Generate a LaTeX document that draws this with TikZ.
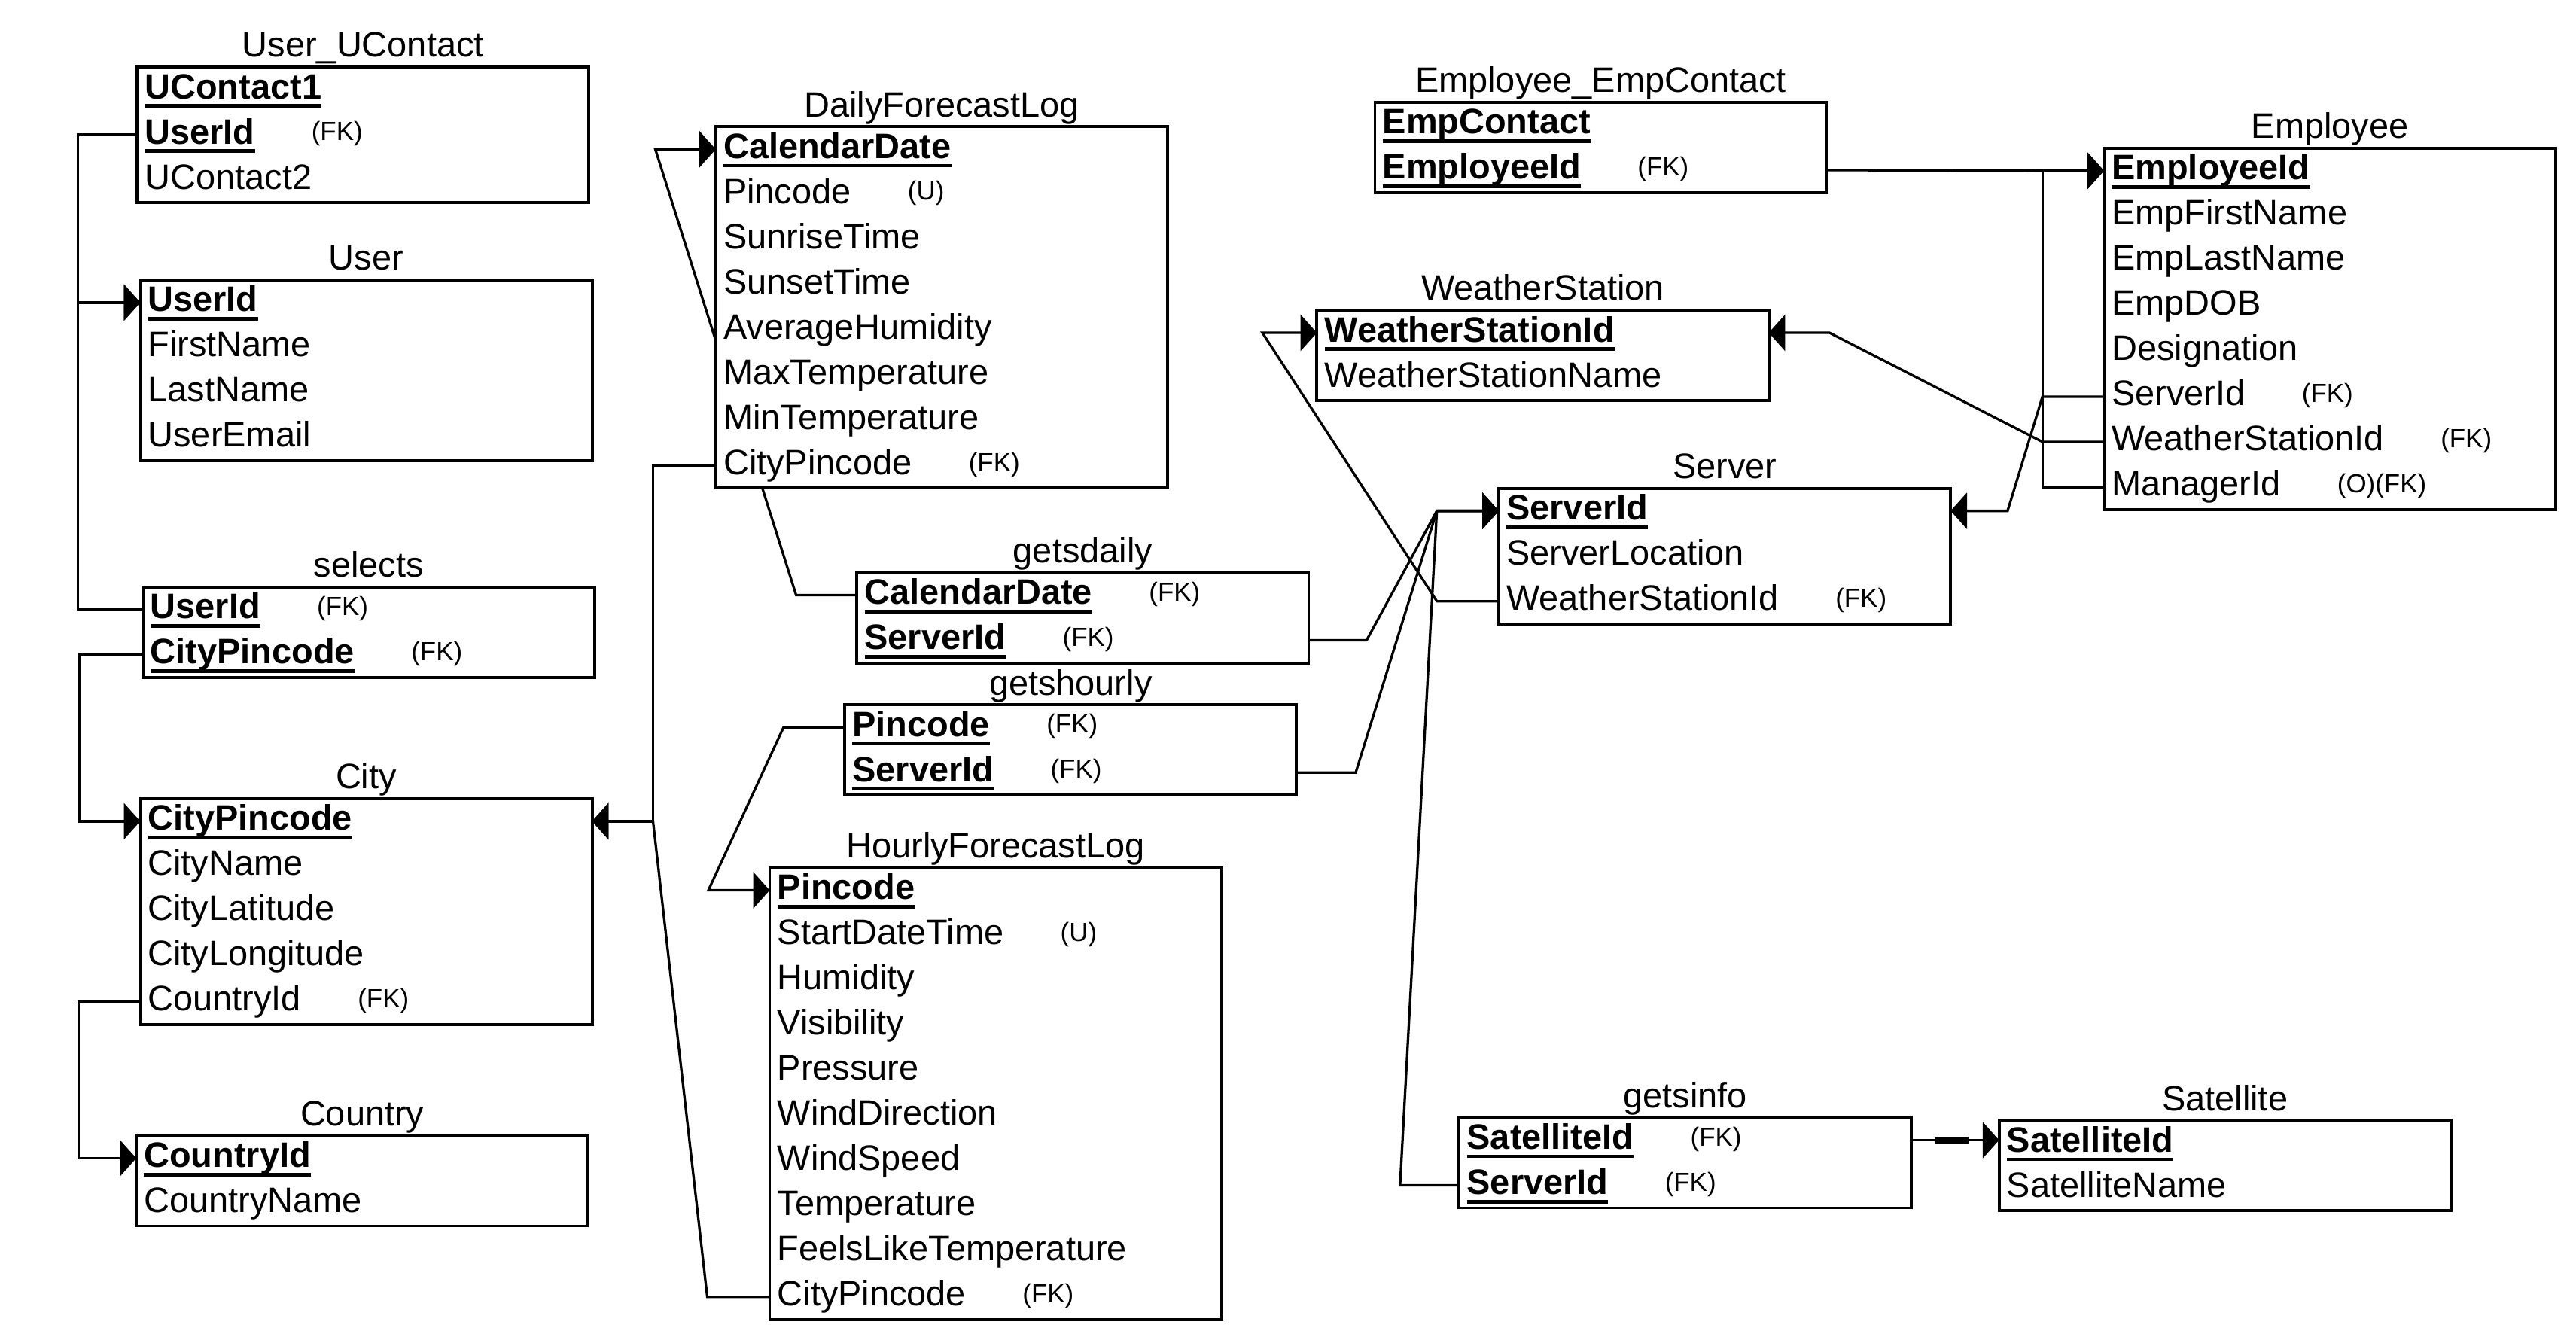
\documentclass[tikz,border=0pt]{standalone}
\usepackage{fontspec}
\setmainfont{Liberation Sans}
\usetikzlibrary{arrows.meta,backgrounds,calc}

\newcommand{\pkey}[1]{\setbox0\hbox{\bfseries #1}\rlap{\rule[-5.5pt]{\wd0}{2.1pt}}\box0}
\newcommand{\fk}[1][(FK)]{\hspace{34.5pt}\raisebox{2pt}{\fontsize{16}{18}\selectfont #1}}

\tikzstyle{tS}=[draw, line width=1.8pt, fill=white, minimum width=275pt, inner sep=0pt, outer sep=0pt, anchor=north west]
\tikzstyle{hS}=[inner sep=0pt, anchor=base, font=\fontsize{21.5}{24}\selectfont]
\tikzstyle{fS}=[inner sep=0pt, anchor=west, text height=15.5pt, text depth=4.5pt, font=\fontsize{21.5}{24}\selectfont]
\tikzstyle{cS}=[line width=1.5pt]
\tikzstyle{aS}=[line width=1.5pt, -{Triangle[length=10pt,width=22pt]}]

\begin{document}
\begin{tikzpicture}[x=1pt,y=-1pt]
\useasboundingbox (0,0) rectangle (1568,815.6);
% tables
\draw (83.5,40.8) node[tS, minimum height=82.5pt] (uuc) {};
\node[hS] at ([yshift=6pt]uuc.north) {User\_UContact};
\foreach \f [count=\i] in {{\pkey{UContact1}}, {\pkey{UserId}\fk}, UContact2}
  \node[fS] (uuc\i) at ([shift={(4.5,27.5*\i-13.75)}]uuc.north west) {\f};

\draw (85.4,170.4) node[tS, minimum height=110pt] (user) {};
\node[hS] at ([yshift=6pt]user.north) {User};
\foreach \f [count=\i] in {{\pkey{UserId}}, FirstName, LastName, UserEmail}
  \node[fS] (user\i) at ([shift={(4.5,27.5*\i-13.75)}]user.north west) {\f};

\draw (86.9,357.2) node[tS, minimum height=55pt] (sel) {};
\node[hS] at ([yshift=6pt]sel.north) {selects};
\foreach \f [count=\i] in {{\pkey{UserId}\fk}, {\pkey{CityPincode}\fk}}
  \node[fS] (sel\i) at ([shift={(4.5,27.5*\i-13.75)}]sel.north west) {\f};

\draw (85.4,486.1) node[tS, minimum height=137.5pt] (city) {};
\node[hS] at ([yshift=6pt]city.north) {City};
\foreach \f [count=\i] in {{\pkey{CityPincode}}, CityName, CityLatitude, CityLongitude, {CountryId\fk}}
  \node[fS] (city\i) at ([shift={(4.5,27.5*\i-13.75)}]city.north west) {\f};

\draw (83,691.2) node[tS, minimum height=55pt] (ctry) {};
\node[hS] at ([yshift=6pt]ctry.north) {Country};
\foreach \f [count=\i] in {{\pkey{CountryId}}, CountryName}
  \node[fS] (ctry\i) at ([shift={(4.5,27.5*\i-13.75)}]ctry.north west) {\f};

\draw (435.7,77.1) node[tS, minimum height=220pt] (dfl) {};
\node[hS] at ([yshift=6pt]dfl.north) {DailyForecastLog};
\foreach \f [count=\i] in {{\pkey{CalendarDate}}, {Pincode\fk[(U)]}, SunriseTime, SunsetTime, AverageHumidity, MaxTemperature, MinTemperature, {CityPincode\fk}}
  \node[fS] (dfl\i) at ([shift={(4.5,27.5*\i-13.75)}]dfl.north west) {\f};

\draw (521.6,348.5) node[tS, minimum height=55pt] (gd) {};
\node[hS] at ([yshift=6pt]gd.north) {getsdaily};
\foreach \f [count=\i] in {{\pkey{CalendarDate}\fk}, {\pkey{ServerId}\fk}}
  \node[fS] (gd\i) at ([shift={(4.5,27.5*\i-13.75)}]gd.north west) {\f};

\draw (514.2,429) node[tS, minimum height=55pt] (gh) {};
\node[hS] at ([yshift=6pt]gh.north) {getshourly};
\foreach \f [count=\i] in {{\pkey{Pincode}\fk}, {\pkey{ServerId}\fk}}
  \node[fS] (gh\i) at ([shift={(4.5,27.5*\i-13.75)}]gh.north west) {\f};

\draw (468.5,528.1) node[tS, minimum height=275pt] (hfl) {};
\node[hS] at ([yshift=6pt]hfl.north) {HourlyForecastLog};
\foreach \f [count=\i] in {{\pkey{Pincode}}, {StartDateTime\fk[(U)]}, Humidity, Visibility, Pressure, WindDirection, WindSpeed, Temperature, FeelsLikeTemperature, {CityPincode\fk}}
  \node[fS] (hfl\i) at ([shift={(4.5,27.5*\i-13.75)}]hfl.north west) {\f};

\draw (836.9,62.3) node[tS, minimum height=55pt] (eec) {};
\node[hS] at ([yshift=6pt]eec.north) {Employee\_EmpContact};
\foreach \f [count=\i] in {{\pkey{EmpContact}}, {\pkey{EmployeeId}\fk}}
  \node[fS] (eec\i) at ([shift={(4.5,27.5*\i-13.75)}]eec.north west) {\f};

\draw (801.6,188.8) node[tS, minimum height=55pt] (ws) {};
\node[hS] at ([yshift=6pt]ws.north) {WeatherStation};
\foreach \f [count=\i] in {{\pkey{WeatherStationId}}, WeatherStationName}
  \node[fS] (ws\i) at ([shift={(4.5,27.5*\i-13.75)}]ws.north west) {\f};

\draw (912.3,297.2) node[tS, minimum height=82.5pt] (srv) {};
\node[hS] at ([yshift=6pt]srv.north) {Server};
\foreach \f [count=\i] in {{\pkey{ServerId}}, ServerLocation, {WeatherStationId\fk}}
  \node[fS] (srv\i) at ([shift={(4.5,27.5*\i-13.75)}]srv.north west) {\f};

\draw (1280.7,90.2) node[tS, minimum height=220pt] (emp) {};
\node[hS] at ([yshift=6pt]emp.north) {Employee};
\foreach \f [count=\i] in {{\pkey{EmployeeId}}, EmpFirstName, EmpLastName, EmpDOB, Designation, {ServerId\fk}, {WeatherStationId\fk}, {ManagerId\fk[(O)(FK)]}}
  \node[fS] (emp\i) at ([shift={(4.5,27.5*\i-13.75)}]emp.north west) {\f};

\draw (888.2,680.2) node[tS, minimum height=55pt] (gi) {};
\node[hS] at ([yshift=6pt]gi.north) {getsinfo};
\foreach \f [count=\i] in {{\pkey{SatelliteId}\fk}, {\pkey{ServerId}\fk}}
  \node[fS] (gi\i) at ([shift={(4.5,27.5*\i-13.75)}]gi.north west) {\f};

\draw (1216.8,682) node[tS, minimum height=55pt] (sat) {};
\node[hS] at ([yshift=6pt]sat.north) {Satellite};
\foreach \f [count=\i] in {{\pkey{SatelliteId}}, SatelliteName}
  \node[fS] (sat\i) at ([shift={(4.5,27.5*\i-13.75)}]sat.north west) {\f};

% links
\begin{scope}[on background layer]
\coordinate (jc) at (397.5,499.85);
\coordinate (jd) at (398.9,90.85);
\coordinate (jh) at (431.2,541.85);
\coordinate (js) at (874.6,310.95);
\coordinate (jw) at (768.4,202.55);
\coordinate (je) at (1222,310.95);
\coordinate (jf) at (1113.6,202.55);
\draw[aS] (uuc.west |- uuc2) -- ++(-36,0) |- (user.west |- user1);
\draw[aS] (sel.west |- sel1) -- ++(-39.4,0) |- (user.west |- user1);
\draw[aS] (sel.west |- sel2) -- ++(-38.4,0) |- (city.west |- city1);
\draw[aS] (city.west |- city5) -- ++(-37.4,0) |- (ctry.west |- ctry1);
\draw[aS] (dfl.west |- dfl8) -- ++(-38.2,0) |- (city.east |- city1);
\draw[aS] (hfl.west |- hfl10) -- ++(-38,0) -- (jc) -- (city.east |- city1);
\draw[aS] (gd.west |- gd1) -- ++(-37,0) -- (jd) -- (dfl.west |- dfl1);
\draw[aS] (gh.west |- gh1) -- ++(-37.3,0) -- (jh) -- (hfl.west |- hfl1);
\draw[aS] (gd.east |- gd2) -- ++(35.2,0) -- (js) -- (srv.west |- srv1);
\draw[aS] (gh.east |- gh2) -- ++(36,0) -- (js) -- (srv.west |- srv1);
\draw[aS] (gi.west |- gi2) -- ++(-36,0) -- (js) -- (srv.west |- srv1);
\draw[aS] (srv.west |- srv3) -- ++(-37.7,0) -- (jw) -- (ws.west |- ws1);
\draw[aS] (emp.west |- emp6) -- ++(-37.5,0) -- (je) -- (srv.east |- srv1);
\draw[aS] (emp.west |- emp7) -- ++(-37.5,0) -- (jf) -- (ws.east |- ws1);
\draw[aS] (emp.west |- emp8) -- ++(-37.5,0) |- (emp.west |- emp1);
\draw[aS] (eec.east |- eec2) -- (emp.west |- emp1);
\draw[aS] (gi.east |- gi1) -- (sat.west |- gi1);
\draw[line width=4pt] ($(gi.east |- gi1)+(15,0)$) -- ++(20,0);
\end{scope}
\end{tikzpicture}
\end{document}
